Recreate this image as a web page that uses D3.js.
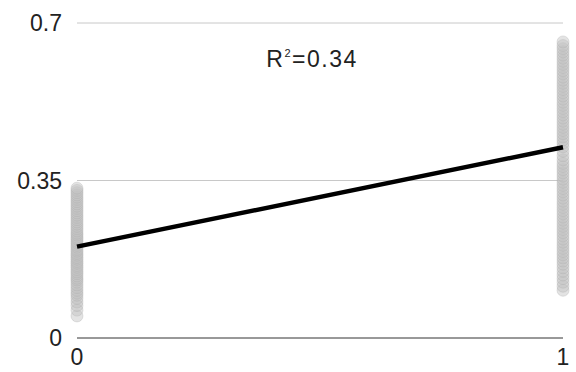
<!DOCTYPE html>
<html>
<head>
<meta charset="utf-8">
<script src="https://cdn.jsdelivr.net/npm/d3@7"></script>
<style>
  body { margin: 0; background: #fff; }
  text { font-family: "Liberation Sans", Arial, sans-serif; fill: #222; }
</style>
</head>
<body>
<div id="chart"></div>
<script>
// data
const groups = [0, 1];
const group0 = [0.049, 0.062, 0.072, 0.08, 0.088, 0.095, 0.1, 0.106, 0.112, 0.118,
  0.124, 0.129, 0.133, 0.138, 0.143, 0.147, 0.152, 0.157, 0.161, 0.166, 0.17,
  0.175, 0.179, 0.184, 0.188, 0.193, 0.197, 0.202, 0.206, 0.211, 0.215, 0.22,
  0.224, 0.229, 0.233, 0.238, 0.243, 0.248, 0.253, 0.258, 0.263, 0.268, 0.273,
  0.278, 0.283, 0.288, 0.293, 0.298, 0.303, 0.308, 0.313, 0.318, 0.323, 0.328,
  0.333];
const group1 = [0.106, 0.115, 0.124, 0.132, 0.14, 0.148, 0.156, 0.164, 0.171,
  0.178, 0.185, 0.192, 0.199, 0.206, 0.213, 0.22, 0.227, 0.234, 0.241, 0.248,
  0.255, 0.262, 0.269, 0.276, 0.283, 0.29, 0.297, 0.304, 0.311, 0.318, 0.325,
  0.332, 0.339, 0.346, 0.353, 0.36, 0.367, 0.374, 0.381, 0.388, 0.396, 0.405,
  0.415, 0.425, 0.433, 0.44, 0.447, 0.454, 0.461, 0.468, 0.475, 0.482, 0.489,
  0.496, 0.503, 0.51, 0.517, 0.524, 0.531, 0.538, 0.545, 0.552, 0.559, 0.566,
  0.573, 0.58, 0.587, 0.594, 0.601, 0.608, 0.615, 0.622, 0.629, 0.636, 0.643,
  0.65, 0.658];
const fitLine = [0.203, 0.424]; // fitted value at x = 0 and x = 1
const yTicks = [0, 0.35, 0.7];
const yTickLabels = ['0', '0.35', '0.7'];
const rSquared = '0.34';

const width = 576, height = 372;
const x = d3.scaleLinear().domain([0, 1]).range([77, 563]);
const y = d3.scaleLinear().domain([0, 0.7]).range([338, 23]);

const svg = d3.select('#chart').append('svg')
  .attr('width', width)
  .attr('height', height);

// gridlines
svg.append('g').selectAll('line')
  .data(yTicks)
  .enter().append('line')
  .attr('x1', x(0)).attr('x2', x(1))
  .attr('y1', d => y(d)).attr('y2', d => y(d))
  .attr('stroke', d => d === 0 ? '#333' : '#c8c8c8')
  .attr('stroke-width', 1);

// y labels
svg.append('g').selectAll('text')
  .data(yTicks)
  .enter().append('text')
  .attr('x', 62)
  .attr('y', d => y(d))
  .attr('dy', '0.35em')
  .attr('text-anchor', 'end')
  .attr('font-size', 23)
  .text((d, i) => yTickLabels[i]);

// x labels
svg.append('g').selectAll('text')
  .data(groups)
  .enter().append('text')
  .attr('x', d => x(d))
  .attr('y', 357)
  .attr('dy', '0.35em')
  .attr('text-anchor', 'middle')
  .attr('font-size', 23)
  .text(d => d);

// points
const points = group0.map(v => ({ g: 0, v: v }))
  .concat(group1.map(v => ({ g: 1, v: v })));

svg.append('g').selectAll('circle')
  .data(points)
  .enter().append('circle')
  .attr('cx', d => x(d.g))
  .attr('cy', d => y(d.v))
  .attr('r', 6)
  .attr('fill', '#c0c0c0')
  .attr('fill-opacity', 0.45)
  .attr('stroke', '#a8a8a8')
  .attr('stroke-opacity', 0.3)
  .attr('stroke-width', 1);

// regression line
svg.append('line')
  .attr('x1', x(0)).attr('y1', y(fitLine[0]))
  .attr('x2', x(1)).attr('y2', y(fitLine[1]))
  .attr('stroke', '#000')
  .attr('stroke-width', 4.5);

// R squared label
const lab = svg.append('text')
  .attr('x', 312)
  .attr('y', 67)
  .attr('text-anchor', 'middle')
  .attr('letter-spacing', 1.5)
  .attr('font-size', 23);
lab.append('tspan').text('R');
lab.append('tspan').attr('font-size', 11).attr('dy', -10).text('2');
lab.append('tspan').attr('dy', 10).text('=' + rSquared);
</script>
</body>
</html>
